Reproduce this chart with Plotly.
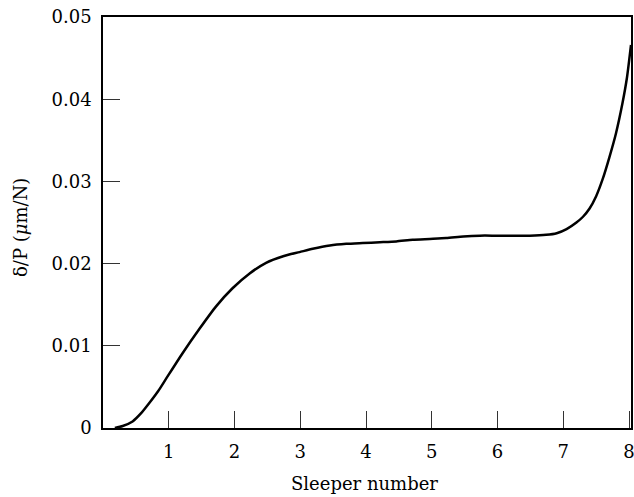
import plotly.graph_objects as go

sleeper = [0.18, 0.30, 0.45, 0.58, 0.71, 0.84, 0.96, 1.21, 1.47, 1.72, 1.97, 2.23, 2.48,
           2.74, 2.99, 3.19, 3.45, 3.70, 3.95, 4.21, 4.46, 4.71, 4.97, 5.22, 5.48, 5.73,
           5.98, 6.24, 6.49, 6.74, 6.90, 7.05, 7.20, 7.30, 7.40, 7.50, 7.60, 7.70, 7.80,
           7.90, 7.97, 8.03]
deflection = [0.0, 0.00025, 0.00080, 0.0018, 0.0031, 0.0045, 0.0060, 0.0091, 0.0121,
              0.0148, 0.0170, 0.0188, 0.0201, 0.0209, 0.0214, 0.0218, 0.0222, 0.0224,
              0.0225, 0.0226, 0.0227, 0.0229, 0.0230, 0.0231, 0.0233, 0.0234, 0.0234,
              0.0234, 0.0234, 0.0235, 0.0237, 0.0242, 0.0250, 0.0257, 0.0267, 0.0282,
              0.0303, 0.0329, 0.0358, 0.0395, 0.0427, 0.0466]

x_ticks = [1, 2, 3, 4, 5, 6, 7, 8]
y_ticks = [0, 0.01, 0.02, 0.03, 0.04, 0.05]
y_tick_text = ["0", "0.01", "0.02", "0.03", "0.04", "0.05"]

FONT = "DejaVu Serif"

fig = go.Figure()
fig.add_trace(go.Scatter(x=sleeper, y=deflection, mode="lines",
                         line=dict(color="black", width=2.5, shape="spline", smoothing=0.6),
                         showlegend=False, hoverinfo="skip", cliponaxis=False))

fig.update_layout(
    width=634, height=497,
    margin=dict(l=103, r=3, t=17, b=69, autoexpand=False),
    plot_bgcolor="white", paper_bgcolor="white",
    font=dict(family=FONT, size=18, color="black"),
    xaxis=dict(range=[0, 8.03], tickvals=x_ticks, ticks="inside", ticklen=17, tickwidth=1,
               tickcolor="#333", showline=True, linecolor="black", linewidth=1.5,
               mirror=True, showgrid=False, zeroline=False, ticklabelstandoff=7,
               automargin=False, ticklabeloverflow="allow"),
    yaxis=dict(range=[0, 0.05], tickvals=y_ticks, ticktext=y_tick_text, ticks="inside",
               ticklen=17, tickwidth=1, tickcolor="#333", showline=True,
               linecolor="black", linewidth=1.5, mirror=True, showgrid=False,
               zeroline=False, ticklabelstandoff=6, automargin=False),
    annotations=[
        dict(text="Sleeper number", xref="paper", yref="paper",
             x=(364.7 - 103) / 528, y=-(483 - 428) / 411, xanchor="center", yanchor="middle",
             showarrow=False, font=dict(family=FONT, size=18)),
        dict(text="δ/P (<i>μ</i>m/N)", xref="paper", yref="paper",
             x=(21 - 103) / 528, y=(428 - 228) / 411, xanchor="center", yanchor="middle",
             textangle=-90, showarrow=False, font=dict(family=FONT, size=18)),
    ],
)

fig.write_html("out.html", config={"displayModeBar": False},
               post_script="document.body.style.margin='0';document.body.style.overflow='hidden';")
